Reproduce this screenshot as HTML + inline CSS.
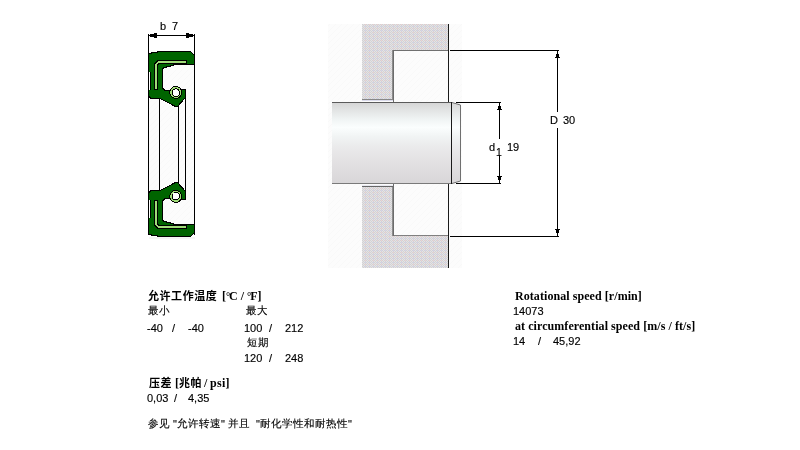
<!DOCTYPE html>
<html lang="zh-CN">
<head>
<meta charset="utf-8">
<title>SKF</title>
<style>
html,body{margin:0;padding:0;background:#fff;}
body{width:800px;height:450px;position:relative;overflow:hidden;font-family:"Liberation Sans","Noto Sans CJK SC",sans-serif;font-size:11px;color:#000;}
.t{will-change:transform;position:absolute;white-space:pre;line-height:12px;height:12px;}
.h{font-family:"Liberation Serif","Noto Sans CJK SC",serif;font-weight:bold;font-size:12px;}
.c{font-family:"Liberation Sans","WenQuanYi Zen Hei","Noto Sans CJK SC",sans-serif;font-size:11px;-webkit-text-stroke:0.15px #000;}
.k{font-family:"Liberation Serif","Noto Sans CJK SC",sans-serif;font-size:11px;letter-spacing:0.55px;}
.dg{font-size:10.5px;position:relative;top:-0.5px;letter-spacing:-1.1px;}
.z{font-size:10.5px;letter-spacing:0.5px;position:relative;top:-1px;-webkit-text-stroke:0.14px #000;}
svg{position:absolute;left:0;top:0;}
</style>
</head>
<body>
<svg width="800" height="450" viewBox="0 0 800 450" shape-rendering="crispEdges">
<defs>
<linearGradient id="sh" x1="0" y1="0" x2="0" y2="1">
<stop offset="0" stop-color="#d4d4d4"/>
<stop offset="0.10" stop-color="#e2e4e4"/>
<stop offset="0.22" stop-color="#f1f5f5"/>
<stop offset="0.31" stop-color="#fbfefe"/>
<stop offset="0.42" stop-color="#f1f4f4"/>
<stop offset="0.55" stop-color="#eaeaeb"/>
<stop offset="0.75" stop-color="#e2e0e2"/>
<stop offset="1" stop-color="#d8d6d8"/>
</linearGradient>
<pattern id="dg" width="4" height="4" patternUnits="userSpaceOnUse">
<rect width="4" height="4" fill="#e4e3e5"/>
<rect x="0" y="0" width="1" height="1" fill="#d3d2d4"/>
<rect x="2" y="0" width="1" height="1" fill="#d3d2d4"/>
<rect x="1" y="1" width="1" height="1" fill="#d3d2d4"/>
<rect x="3" y="1" width="1" height="1" fill="#d3d2d4"/>
<rect x="0" y="2" width="1" height="1" fill="#d3d2d4"/>
<rect x="2" y="2" width="1" height="1" fill="#d3d2d4"/>
<rect x="1" y="3" width="1" height="1" fill="#d3d2d4"/>
<rect x="3" y="3" width="1" height="1" fill="#d3d2d4"/>
<rect x="1" y="0" width="1" height="1" fill="#eed2d2"/>
<rect x="1" y="2" width="1" height="1" fill="#d2d2ee"/>
</pattern>
<pattern id="ht" width="6" height="6" patternUnits="userSpaceOnUse">
<rect width="6" height="6" fill="#fcfcfc"/>
<path d="M0,6 L6,0" stroke="#f9f9f9" stroke-width="1" shape-rendering="auto"/>
</pattern>
</defs>

<!-- ===== seal ===== -->
<rect x="149" y="52" width="45" height="184" fill="url(#ht)"/>
<rect x="148" y="34" width="1" height="201" fill="#000"/>
<rect x="194" y="34" width="1" height="201" fill="#000"/>
<rect x="159" y="98" width="1" height="93" fill="#000"/>
<rect x="178" y="106" width="1" height="77" fill="#000"/>
<rect x="185" y="98" width="1" height="93" fill="#000"/>
<!-- top half -->
<path d="M148.5,53.5 H151.5 V52.5 H157.5 V51.5 H190.5 L194.5,55.5 L194.5,64.5 H173.5 V65.5 H170.5 V66.5 H166.5 V67.5 H163.5 V68.5 H162.5 V88 L165,90.5 L170,90.5 L172,89.5 L185.5,89.5 L185.5,97.5 L177.5,106.5 L175.5,106.5 L160,98.5 L151,98.5 L148.5,96 Z" fill="#006400" stroke="#000" stroke-width="1"/>
<rect x="149" y="72" width="1" height="18" fill="#fff"/>
<rect x="150" y="72" width="1" height="18" fill="#000"/>
<path d="M156,90 L156,64.2 L158.7,62 L187,62" fill="none" stroke="#000" stroke-width="4"/>
<path d="M156,89 L156,64.5 L158.5,62 L186,62" fill="none" stroke="#a0dc78" stroke-width="2"/>
<circle cx="175.7" cy="92.4" r="6.5" fill="#000"/>
<circle cx="175.7" cy="92.4" r="5.5" fill="#a0dc78"/>
<circle cx="175.8" cy="92.6" r="4.3" fill="#000"/>
<circle cx="175.8" cy="92.7" r="3.3" fill="#fff"/>
<!-- bottom half -->
<path d="M148.5,234.5 H151.5 V235.5 H157.5 V236.5 H190.5 L194.5,232.5 L194.5,224.5 H173.5 V223.5 H170.5 V222.5 H166.5 V221.5 H163.5 V220.5 H162.5 V201 L165,198.5 L170,198.5 L172,199.5 L185.5,199.5 L185.5,191.5 L177.5,182.5 L175.5,182.5 L160,190.5 L151,190.5 L148.5,193 Z" fill="#006400" stroke="#000" stroke-width="1"/>
<rect x="149" y="200" width="1" height="18" fill="#fff"/>
<rect x="150" y="200" width="1" height="18" fill="#000"/>
<path d="M156,200 L156,224.8 L158.7,227 L187,227" fill="none" stroke="#000" stroke-width="4"/>
<path d="M156,201 L156,224.5 L158.5,227 L186,227" fill="none" stroke="#a0dc78" stroke-width="2"/>
<circle cx="175.7" cy="196.4" r="6.5" fill="#000"/>
<circle cx="175.7" cy="196.4" r="5.5" fill="#a0dc78"/>
<circle cx="175.8" cy="196.2" r="4.3" fill="#000"/>
<circle cx="175.8" cy="196.1" r="3.3" fill="#fff"/>
<rect x="149" y="237" width="46" height="2" fill="#f5f5f5"/>
<!-- b dimension -->
<rect x="149" y="35" width="45" height="1" fill="#000"/>
<rect x="150" y="34" width="4" height="3" fill="#000"/><rect x="154" y="33" width="3" height="5" fill="#000"/>
<rect x="189" y="34" width="4" height="3" fill="#000"/><rect x="186" y="33" width="3" height="5" fill="#000"/>

<!-- ===== shaft drawing ===== -->
<rect x="328" y="24" width="134" height="244" fill="url(#ht)"/>
<rect x="362" y="24" width="86" height="244" fill="url(#dg)"/>
<rect x="393" y="51" width="55" height="185" fill="url(#ht)"/>
<rect x="392" y="50" width="56" height="1" fill="#707070"/>
<rect x="392" y="235" width="56" height="1" fill="#808080"/>
<rect x="392" y="50" width="1" height="52" fill="#8c8c8c"/>
<rect x="393" y="50" width="1" height="52" fill="#6c6c6c"/>
<rect x="392" y="184" width="1" height="52" fill="#8c8c8c"/>
<rect x="393" y="184" width="1" height="52" fill="#6c6c6c"/>
<rect x="362" y="99" width="31" height="1" fill="#888"/>
<rect x="362" y="100" width="31" height="1" fill="#dcdcec"/>
<rect x="362" y="101" width="31" height="1" fill="#fcfcfc"/>
<rect x="362" y="186" width="31" height="1" fill="#666"/>
<rect x="362" y="185" width="31" height="1" fill="#e8e8f0"/>
<rect x="362" y="184" width="31" height="1" fill="#fcfcfc"/>
<rect x="448" y="24" width="1" height="244" fill="#1a1a1a"/>
<!-- shaft -->
<polygon points="332,102 452,102 460,105 460,181 452,184 332,184" fill="url(#sh)"/>
<rect x="332" y="102" width="120" height="1" fill="#5a5a5a"/>
<rect x="332" y="183" width="120" height="1" fill="#7a7a7a"/>
<rect x="451" y="102" width="1" height="82" fill="#1a1a1a"/>
<path d="M452,102.5 L460.5,105 L460.5,181 L452,183.5" fill="none" stroke="#707070" stroke-width="1" shape-rendering="auto"/>
<!-- dimension lines -->
<rect x="450" y="50" width="109" height="1" fill="#000"/>
<rect x="450" y="236" width="109" height="1" fill="#000"/>
<rect x="557" y="51" width="1" height="61" fill="#000"/>
<rect x="557" y="128" width="1" height="108" fill="#000"/>
<polygon points="557.5,51 555,58 560,58" fill="#000"/>
<polygon points="557.5,236 555,229 560,229" fill="#000"/>
<rect x="456" y="102" width="45" height="1" fill="#000"/>
<rect x="456" y="183" width="45" height="1" fill="#000"/>
<rect x="499" y="103" width="1" height="36" fill="#000"/>
<rect x="499" y="155" width="1" height="28" fill="#000"/>
<polygon points="499.5,103 497,110 502,110" fill="#000"/>
<polygon points="499.5,183 497,176 502,176" fill="#000"/>
</svg>

<div class="t c" style="left:159.5px;top:20px;">b</div>
<div class="t c" style="left:171.5px;top:20px;">7</div>
<div class="t c" style="left:550px;top:114px;">D</div>
<div class="t c" style="left:562.5px;top:114px;">30</div>
<div class="t c" style="left:489px;top:141px;">d</div>
<div class="t c" style="left:496px;top:146px;font-size:10.5px;">1</div>
<div class="t c" style="left:507px;top:141px;">19</div>

<div class="t h k" style="left:148px;top:290px;">允许工作温度</div>
<div class="t h" style="left:222px;top:290px;">[<span class="dg">°</span>C / <span class="dg">°</span>F]</div>
<div class="t c" style="left:147.5px;top:305px;"><span class="z">最小</span></div>
<div class="t c" style="left:245.5px;top:305px;"><span class="z">最大</span></div>
<div class="t c" style="left:147px;top:322px;">-40</div>
<div class="t c" style="left:172px;top:322px;">/</div>
<div class="t c" style="left:188px;top:322px;">-40</div>
<div class="t c" style="left:244px;top:322px;">100</div>
<div class="t c" style="left:269px;top:322px;">/</div>
<div class="t c" style="left:285px;top:322px;">212</div>
<div class="t c" style="left:246.5px;top:337px;"><span class="z">短期</span></div>
<div class="t c" style="left:244px;top:352px;">120</div>
<div class="t c" style="left:269px;top:352px;">/</div>
<div class="t c" style="left:285px;top:352px;">248</div>
<div class="t h k" style="left:148.5px;top:377px;">压差</div>
<div class="t h" style="left:175px;top:377px;">[</div>
<div class="t h k" style="left:178.5px;top:377px;">兆帕</div>
<div class="t h" style="left:203.5px;top:377px;">/</div>
<div class="t h" style="left:209.5px;top:377px;letter-spacing:0.3px;">psi]</div>
<div class="t c" style="left:147px;top:392px;">0,03</div>
<div class="t c" style="left:174px;top:392px;">/</div>
<div class="t c" style="left:188px;top:392px;">4,35</div>
<div class="t c" style="left:147.5px;top:418px;"><span class="z">参见</span> "<span class="z">允许转速</span>" <span class="z">并且</span></div>
<div class="t c" style="left:256px;top:418px;">"<span class="z">耐化学性和耐热性</span>"</div>

<div class="t h" style="left:515px;top:290px;letter-spacing:0.065px;">Rotational speed [r/min]</div>
<div class="t c" style="left:513px;top:305px;">14073</div>
<div class="t h" style="left:515px;top:320px;letter-spacing:0.065px;">at circumferential speed [m/s / ft/s]</div>
<div class="t c" style="left:513px;top:335px;">14</div>
<div class="t c" style="left:538px;top:335px;">/</div>
<div class="t c" style="left:552.5px;top:335px;">45,92</div>
</body>
</html>
